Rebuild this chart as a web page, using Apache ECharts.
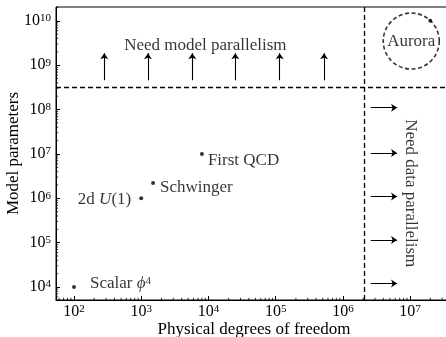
<!DOCTYPE html>
<html>
<head>
<meta charset="utf-8">
<script src="https://cdn.jsdelivr.net/npm/echarts@6/dist/echarts.min.js"></script>
<style>
  html, body { margin: 0; padding: 0; background: #fff; }
  #chart { width: 446px; height: 337px; }
</style>
</head>
<body>
<div id="chart"></div>
<script>
// Lattice field theory models: physical degrees of freedom vs model parameters
const modelNames = ['Scalar', '2d U(1)', 'Schwinger', 'First QCD', 'Aurora'];
const modelDof = [1e2, 1e3, 1.5e3, 8e3, 2e7];
const modelParams = [1e4, 1e6, 2.2e6, 1e7, 1e10];

// Axis extents (log scale)
const xRange = [54, 4.2e7];
const yRange = [5.1e3, 2.05e10];

// Thresholds separating the regimes
const dofThreshold = 2.1e6;
const paramThreshold = 3.16e8;

// "Need model parallelism" arrows (pointing up)
const upArrowDof = [282, 1260, 5750, 25100, 115000, 525000];
const upArrowFrom = 4.6e8;
const upArrowTo = 1.85e9;

// "Need data parallelism" arrows (pointing right)
const rightArrowParams = [1.1e8, 1.05e7, 1.1e6, 1.15e5, 1.2e4];
const rightArrowFrom = 2.6e6;
const rightArrowTo = 6.4e6;

// Dashed ring around the Aurora point
const ringCenter = [1.04e7, 3.5e9];

const FONT = 'Liberation Serif';
const TXT = 17;

// minor log ticks k*10^n inside each range
function minorTicks(range) {
  const out = [];
  for (let e = Math.floor(Math.log10(range[0])); e <= Math.ceil(Math.log10(range[1])); e++) {
    for (let k = 2; k <= 9; k++) {
      const v = k * Math.pow(10, e);
      if (v > range[0] && v < range[1]) out.push(v);
    }
  }
  return out;
}

function powLabel(v) {
  return '{b|10}{s|' + Math.round(Math.log10(v)) + '}';
}
const powRich = {
  b: { fontFamily: FONT, fontSize: 16, color: '#000', lineHeight: 16, verticalAlign: 'bottom' },
  s: { fontFamily: FONT, fontSize: 11, color: '#000', lineHeight: 11, verticalAlign: 'top', padding: [0, 0, 10, 0] }
};

const chart = echarts.init(document.getElementById('chart'), null, { renderer: 'canvas' });

const pointLabels = [
  { position: 'right', distance: 14, offset: [0, -3], formatter: 'Scalar {i|ϕ}{s|4}' },
  { position: 'left', distance: 8, offset: [0, 1], formatter: '2d {i|U}(1)' },
  { position: 'right', distance: 5, offset: [0, 4], formatter: 'Schwinger' },
  { position: 'right', distance: 4, offset: [0, 7], formatter: 'First QCD' },
  { show: false }
];

const labelRich = {
  i: { fontFamily: FONT, fontSize: TXT, fontStyle: 'italic', color: '#000' },
  s: { fontFamily: FONT, fontSize: 11, color: '#000', verticalAlign: 'top', padding: [0, 0, 10, 0], lineHeight: 11 }
};

const option = {
  animation: false,
  backgroundColor: '#fff',
  textStyle: { fontFamily: FONT },
  grid: {
    left: 56, right: -6, top: 7, bottom: 37,
    outerBoundsMode: 'none',
    containLabel: false,
    show: true, borderColor: '#000', borderWidth: 1, backgroundColor: 'transparent'
  },
  xAxis: {
    type: 'log',
    min: xRange[0], max: xRange[1],
    name: 'Physical degrees of freedom',
    nameLocation: 'middle',
    nameGap: 21,
    nameMoveOverlap: false,
    nameTextStyle: { fontFamily: FONT, fontSize: TXT, color: '#000' },
    axisLine: { lineStyle: { color: '#000', width: 1 } },
    axisTick: { inside: true, length: 4, lineStyle: { color: '#000' } },
    axisLabel: {
      showMinLabel: false, showMaxLabel: false,
      formatter: powLabel, rich: powRich, margin: 4, color: '#000'
    },
    splitLine: { show: false }
  },
  yAxis: {
    type: 'log',
    min: yRange[0], max: yRange[1],
    name: 'Model parameters',
    nameLocation: 'middle',
    nameGap: 34,
    nameMoveOverlap: false,
    nameTextStyle: { fontFamily: FONT, fontSize: TXT, color: '#000' },
    axisLine: { lineStyle: { color: '#000', width: 1 } },
    axisTick: { inside: true, length: 4, lineStyle: { color: '#000' } },
    axisLabel: {
      showMinLabel: false, showMaxLabel: false,
      formatter: powLabel, rich: powRich, margin: 5, color: '#000'
    },
    splitLine: { show: false }
  },
  series: [
    {
      // minor ticks on the x axis
      type: 'custom',
      silent: true,
      clip: false,
      data: minorTicks(xRange).map(v => [v, yRange[0]]),
      renderItem: function (params, api) {
        const p = api.coord([api.value(0), yRange[0]]);
        return { type: 'line', shape: { x1: p[0], y1: p[1], x2: p[0], y2: p[1] - 2.2 },
                 style: { stroke: '#000', lineWidth: 0.8 } };
      }
    },
    {
      // minor ticks on the y axis
      type: 'custom',
      silent: true,
      clip: false,
      data: minorTicks(yRange).map(v => [xRange[0], v]),
      renderItem: function (params, api) {
        const p = api.coord([xRange[0], api.value(1)]);
        return { type: 'line', shape: { x1: p[0], y1: p[1], x2: p[0] + 2.2, y2: p[1] },
                 style: { stroke: '#000', lineWidth: 0.8 } };
      }
    },
    {
      // regime boundaries
      type: 'line',
      data: [],
      markLine: {
        silent: true,
        symbol: ['none', 'none'],
        label: { show: false },
        lineStyle: { color: '#000', type: [5, 3], width: 1.3 },
        data: [{ xAxis: dofThreshold }, { yAxis: paramThreshold }]
      }
    },
    {
      type: 'lines',
      coordinateSystem: 'cartesian2d',
      silent: true,
      symbol: ['none', 'arrow'],
      symbolSize: [0, 6],
      lineStyle: { color: '#000', width: 1.1, opacity: 1 },
      data: upArrowDof.map(x => ({ coords: [[x, upArrowFrom], [x, upArrowTo]] }))
        .concat(rightArrowParams.map(y => ({ coords: [[rightArrowFrom, y], [rightArrowTo, y]] })))
    },
    {
      // dashed ring with label
      type: 'scatter',
      silent: true,
      symbol: 'circle',
      symbolSize: 56,
      itemStyle: { color: 'rgba(0,0,0,0)', borderColor: '#000', borderWidth: 1.6, borderType: [4, 2.6] },
      label: { show: true, position: 'inside', formatter: 'Aurora', fontFamily: FONT, fontSize: TXT, color: '#000' },
      data: [ringCenter],
      z: 3
    },
    {
      type: 'scatter',
      symbol: 'circle',
      symbolSize: 4,
      itemStyle: { color: '#000' },
      data: modelDof.map((x, i) => ({
        name: modelNames[i],
        value: [x, modelParams[i]],
        label: Object.assign({ show: true, fontFamily: FONT, fontSize: TXT, color: '#000', rich: labelRich }, pointLabels[i])
      })),
      z: 4
    },
    {
      // region captions
      type: 'scatter',
      silent: true,
      symbolSize: 0,
      data: [
        { value: [9e3, 2.8e9], label: { show: true, position: 'inside', formatter: 'Need model parallelism',
          fontFamily: FONT, fontSize: TXT, color: '#000' } },
        { value: [1e7, 1.3e6], label: { show: true, position: 'inside', rotate: -90, formatter: 'Need data parallelism',
          fontFamily: FONT, fontSize: TXT, color: '#000' } }
      ],
      z: 4
    }
  ]
};

chart.setOption(option);
</script>
</body>
</html>
